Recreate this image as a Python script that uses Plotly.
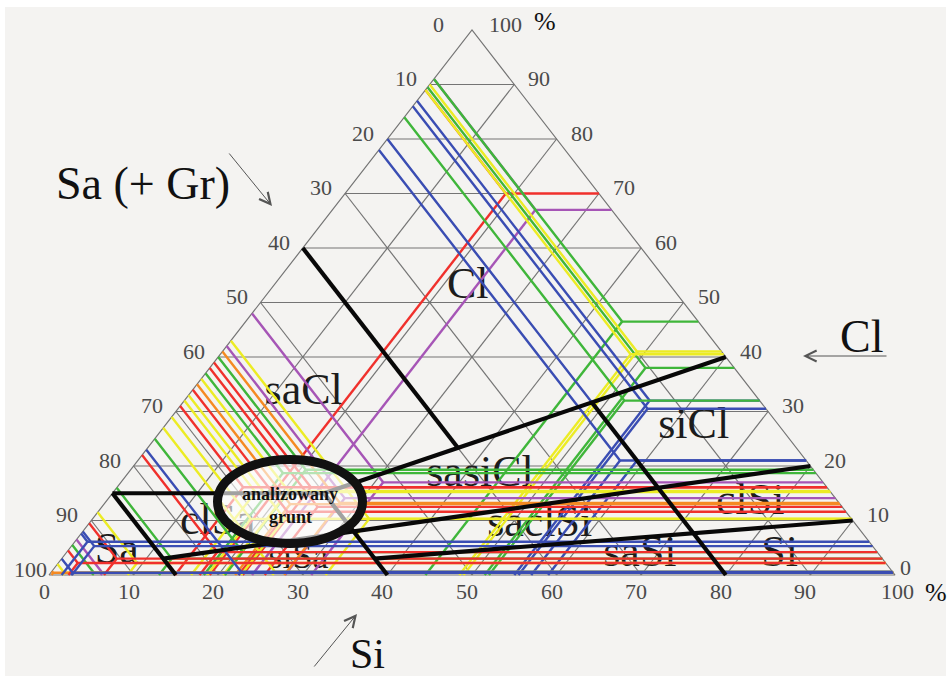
import plotly.graph_objects as go

W, H = 952, 676
SERIF = "Liberation Serif, Times New Roman, serif"

# ---------------------------------------------------------------
# Sample compositions: sand (+ gravel), silt and clay content in %
# (lists are given in drawing order)
# ---------------------------------------------------------------
clay_colors = ["red", "purple", "green", "green", "yellow", "yellow",
               "blue", "blue", "green", "blue", "blue"]
clay_sa = [11, 9, 9, 10.5, 10, 11, 13, 14, 16, 20, 22]
clay_si = [19, 24, 44.5, 51.5, 49, 48.5, 55, 55.5, 52, 59, 57]
clay_cl = [70, 67, 46.5, 38, 41, 40.5, 32, 30.5, 32, 21, 21]

loam_colors = ["purple", "yellow", "purple", "orange", "green", "red", "red",
               "green", "yellow", "orange", "red", "yellow", "yellow", "red", "yellow"]
loam_sa = [52, 57, 58, 59, 60, 61, 62, 63, 64, 65, 66, 67, 68, 69, 71]
loam_si = [31, 32.7, 27.9, 27.8, 20.7, 22.9, 25.5, 18.3, 20.6, 22, 22.4, 22.7, 16.8, 14.9, 18.7]
loam_cl = [17, 10.3, 14.1, 13.2, 19.3, 16.1, 12.5, 18.7, 15.4, 13, 11.6, 10.3, 15.2, 16.1, 10.3]

sand_colors = ["yellow", "green", "green", "yellow", "purple", "green", "yellow", "orange",
               "red", "red", "red", "blue", "blue", "blue", "blue"]
sand_sa = [73, 75, 84, 88.5, 93.5, 94.5, 98, 99.3, 78, 90.5, 95.5, 77, 92, 92.4, 97]
sand_si = [26.4, 20.8, 13, 9.3, 6.1, 5.1, 1.6, 0.3, 17.8, 6.5, 2.3, 22.4, 2.7, 1.5, 2.6]
sand_cl = [0.6, 4.2, 3, 2.2, 0.4, 0.4, 0.4, 0.4, 4.2, 3, 2.2, 0.6, 5.3, 6.1, 0.4]

# soil fields and the (Si, Cl) spot where each name is written
field_names = ["Cl", "saCl", "siCl", "sasiCl", "clSi", "saclSi", "saSi", "Si", "clSa", "Sa", "siSa"]
field_si = [23.1, 13.4, 62.6, 41.8, 76.3, 53.4, 68.0, 84.5, 15.2, 5.9, 28.0]
field_cl = [52.8, 33.4, 27.2, 18.3, 13.2, 9.2, 3.7, 3.7, 9.5, 4.2, 3.0]

# field boundaries, end points given as (Sa, Si, Cl)
boundaries = [
    ((40, 0, 60), (40, 36.7, 23.3)),
    ((0, 60, 40), (60, 25, 15)),
    ((85, 0, 15), (60, 25, 15)),
    ((60, 25, 15), (60, 40, 0)),
    ((85, 0, 15), (85, 15, 0)),
    ((20, 48.3, 31.7), (20, 80, 0)),
    ((0, 80, 20), (85, 12, 3)),
    ((0, 90, 10), (60, 37, 3)),
]

ticks = list(range(0, 101, 10))

COLORS = {
    "red": "#f0302c",
    "green": "#3fb63a",
    "yellow": "#ecec24",
    "blue": "#3a4db3",
    "purple": "#a655b6",
    "orange": "#f58a22",
}


def xy(sa, si, cl):
    """Ternary (Sa, Si, Cl) -> plane coordinates (Cl axis vertical)."""
    return si + cl / 2.0, cl


def paper(px, py):
    return px / W, 1 - py / H


fig = go.Figure()

# ---- grid ----
gx, gy = [], []
for k in range(10, 100, 10):
    for a, b in (((100 - k, 0, k), (0, 100 - k, k)),      # clay = k
                 ((100 - k, k, 0), (0, k, 100 - k)),      # silt = k
                 ((k, 0, 100 - k), (k, 100 - k, 0))):     # sand = k
        for p in (a, b):
            x, y = xy(*p)
            gx.append(x)
            gy.append(y)
        gx.append(None)
        gy.append(None)
for p in ((100, 0, 0), (0, 100, 0), (0, 0, 100), (100, 0, 0)):
    x, y = xy(*p)
    gx.append(x)
    gy.append(y)
fig.add_trace(go.Scatter(x=gx, y=gy, mode="lines", hoverinfo="skip",
                         line=dict(color="#747474", width=1.2)))

# ---- field names (under the sample lines) ----
fx, fy = [], []
for si, cl in zip(field_si, field_cl):
    x, y = xy(100 - si - cl, si, cl)
    fx.append(x)
    fy.append(y)
field_sizes = [44] * (len(field_names) - 1) + [36]
fig.add_trace(go.Scatter(x=fx, y=fy, mode="text", text=field_names, hoverinfo="skip",
                         textposition="middle center",
                         textfont=dict(family=SERIF, size=field_sizes, color="#1c1c1c")))


# ---- sample reading lines: to the Sa, Cl and Si scales ----
def add_sample(color, sa, si, cl):
    px, py = xy(sa, si, cl)
    pts = [xy(sa, 0, 100 - sa), (px, py), xy(0, 100 - cl, cl), None,
           (px, py), xy(100 - si, si, 0)]
    xs = [p[0] if p else None for p in pts]
    ys = [p[1] if p else None for p in pts]
    fig.add_trace(go.Scatter(x=xs, y=ys, mode="lines", hoverinfo="skip",
                             line=dict(color=COLORS[color], width=2.4)))


for cols, sas, sis, cls in ((clay_colors, clay_sa, clay_si, clay_cl),
                            (loam_colors, loam_sa, loam_si, loam_cl),
                            (sand_colors, sand_sa, sand_si, sand_cl)):
    for c, a, s, l in zip(cols, sas, sis, cls):
        add_sample(c, a, s, l)

# ---- field boundaries ----
bx, by = [], []
for a, b in boundaries:
    for p in (a, b):
        x, y = xy(*p)
        bx.append(x)
        by.append(y)
    bx.append(None)
    by.append(None)
fig.add_trace(go.Scatter(x=bx, y=by, mode="lines", hoverinfo="skip",
                         line=dict(color="#080808", width=4.2)))

# ---- scale labels ----
ann = []
tick_font = dict(family=SERIF, size=22, color="#4a4a4a")
for v in ticks:
    # sand scale on the left side
    x, y = xy(v, 0, 100 - v)
    dx = -24
    if v == 0:
        dx = -34
    elif v == 100:
        dx = -19
    ann.append(dict(x=x, y=y, text=str(v), showarrow=False, xshift=dx, yshift=6,
                    font=tick_font))
    # silt scale along the base
    x, y = xy(100 - v, v, 0)
    ann.append(dict(x=x, y=y, text=str(v), showarrow=False,
                    xshift=2 if v == 100 else -5, yshift=-16, font=tick_font))
    # clay scale on the right side
    x, y = xy(0, 100 - v, v)
    dx, dy = 25, 6
    if v == 0:
        dx, dy = 10, 8
    elif v == 100:
        dx = 33
    ann.append(dict(x=x, y=y, text=str(v), showarrow=False, xshift=dx, yshift=dy,
                    font=tick_font))

pct_font = dict(family=SERIF, size=26, color="#111111")
x, y = xy(0, 0, 100)
ann.append(dict(x=x, y=y, text="%", showarrow=False, xshift=73, yshift=9, font=pct_font))
x, y = xy(0, 100, 0)
ann.append(dict(x=x, y=y, text="%", showarrow=False, xshift=41, yshift=-17, font=pct_font))

# ---- axis names with arrows ----
for text, (px, py), size in (("Sa (+ Gr)", (143, 183), 46),
                             ("Cl", (861, 337), 46),
                             ("Si", (367, 654), 42)):
    xp, yp = paper(px, py)
    ann.append(dict(x=xp, y=yp, xref="paper", yref="paper", text=text,
                    xanchor="center", yanchor="middle", showarrow=False,
                    font=dict(family=SERIF, size=size, color="#111111")))

for (tx, ty), (hx, hy) in (((228, 152), (272, 206)),
                           ((888, 356), (803, 356)),
                           ((313, 668), (357, 614))):
    xp, yp = paper(hx, hy)
    ann.append(dict(x=xp, y=yp, xref="paper", yref="paper", text="",
                    xanchor="center", yanchor="middle",
                    showarrow=True, ax=tx - hx, ay=ty - hy, arrowhead=5,
                    arrowsize=2.2, arrowwidth=1, arrowcolor="#555555"))

# ---- highlighted sample area ----
cx0, cy0 = paper(217.5, 543.5)
cx1, cy1 = paper(362.5, 459.5)
oval_font = dict(family=SERIF, size=18, color="#111111")
for text, (px, py) in (("<b>analizowany</b>", (290, 494)), ("<b>grunt</b>", (290, 517))):
    xp, yp = paper(px, py)
    ann.append(dict(x=xp, y=yp, xref="paper", yref="paper", text=text,
                    xanchor="center", yanchor="middle",
                    showarrow=False, font=oval_font))

bx0, by0 = paper(5, 676)
bx1, by1 = paper(946, 7)
shapes = [
    dict(type="rect", xref="paper", yref="paper", x0=bx0, y0=by0, x1=bx1, y1=by1,
         fillcolor="#f4f3f1", line=dict(width=0), layer="below"),
    dict(type="circle", xref="paper", yref="paper", x0=cx0, y0=cy0, x1=cx1, y1=cy1,
         fillcolor="rgba(255,255,255,0.62)", line=dict(color="#111111", width=9),
         layer="above"),
]

fig.update_layout(
    width=W, height=H, autosize=False,
    margin=dict(l=0, r=0, t=0, b=0),
    paper_bgcolor="white", plot_bgcolor="rgba(0,0,0,0)",
    showlegend=False,
    xaxis=dict(visible=False, range=[-49 / 8.46, 100 + 57 / 8.46], fixedrange=True),
    yaxis=dict(visible=False, range=[-101 / 5.45, 100 + 30 / 5.45], fixedrange=True),
    annotations=ann,
    shapes=shapes,
)

fig.write_html("out.html")
